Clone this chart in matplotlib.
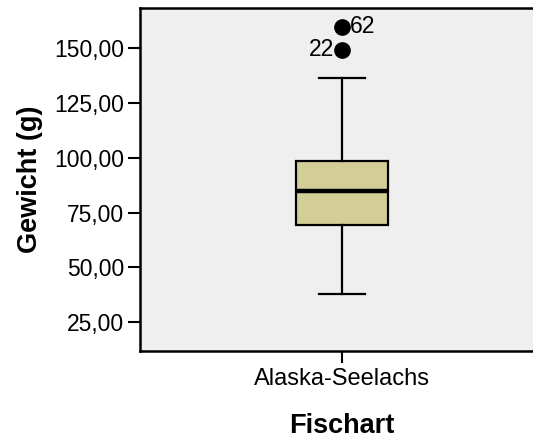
import matplotlib
matplotlib.use("Agg")
import matplotlib.pyplot as plt

# boxplot stats (Gewicht in g)
category = "Alaska-Seelachs"
q1, med, q3 = 69.4, 85.0, 98.4
whislo, whishi = 38.1, 136.3
outlier_vals = [159.7, 149.1]
outlier_ids = ["62", "22"]

yticks = [25, 50, 75, 100, 125, 150]

plt.rcParams['font.family'] = ['Liberation Sans', 'DejaVu Sans']

fig = plt.figure(figsize=(5.33, 4.38), dpi=100)
ax = fig.add_axes([0.2627, 0.1986, 0.758, 0.7831])
ax.set_facecolor('#efefef')

stats = [dict(label=category, q1=q1, med=med, q3=q3,
              whislo=whislo, whishi=whishi, fliers=outlier_vals)]
ax.bxp(stats, positions=[0], widths=0.455, patch_artist=True,
       boxprops=dict(facecolor='#d3ce98', edgecolor='black', linewidth=1.6),
       medianprops=dict(color='black', linewidth=3.2),
       whiskerprops=dict(color='black', linewidth=1.6),
       capprops=dict(color='black', linewidth=1.6),
       flierprops=dict(marker='o', markerfacecolor='black',
                       markeredgecolor='black', markersize=11))

# case numbers next to the outliers
ax.annotate(outlier_ids[0], (0, outlier_vals[0]), xytext=(6, 0),
            textcoords='offset points', ha='left', va='center', fontsize=16.5)
ax.annotate(outlier_ids[1], (0, outlier_vals[1]), xytext=(-6, 0),
            textcoords='offset points', ha='right', va='center', fontsize=16.5)

ax.set_xlim(-1, 1)
ax.set_ylim(11.9, 168.2)
ax.set_yticks(yticks)
ax.set_yticklabels([f"{v},00" for v in yticks])
ax.set_xticks([0])
ax.set_xticklabels([category])

ax.tick_params(axis='y', direction='out', length=8.5, width=1.5,
               labelsize=16.5, pad=3)
ax.tick_params(axis='x', direction='out', length=8.5, width=1.5,
               labelsize=17, pad=4)

for s in ax.spines.values():
    s.set_linewidth(1.8)
    s.set_color('black')

ax.set_ylabel("Gewicht (g)", fontsize=19.5, fontweight='bold')
ax.yaxis.set_label_coords(-0.24, 0.5)
ax.set_xlabel("Fischart", fontsize=19.5, fontweight='bold')
ax.xaxis.set_label_coords(0.5, -0.18)

fig.savefig("out.png", dpi=100)
